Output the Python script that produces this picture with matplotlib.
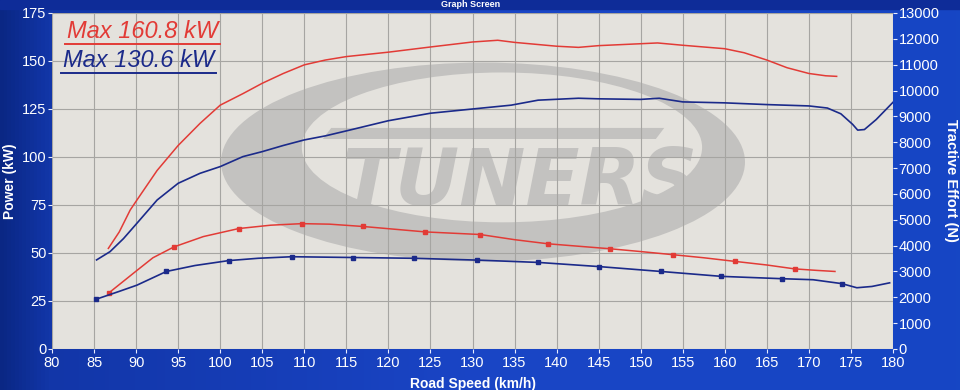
import numpy as np
import matplotlib
matplotlib.use("Agg")
import matplotlib.pyplot as plt
from matplotlib.patches import Ellipse, Polygon, Rectangle
from matplotlib.lines import Line2D
from matplotlib.colors import LinearSegmentedColormap

plt.rcParams['font.family'] = ['Liberation Sans', 'DejaVu Sans']

# ---------------- data ----------------
# Power curves (kW) vs road speed (km/h)
speed_red_power = [86.7, 88.0, 89.3, 90.1, 92.5, 95.0, 97.6, 100.0, 102.7, 105.0, 107.5,
                   110.0, 112.5, 115.0, 120.0, 125.0, 130.0, 133.0, 135.0, 140.0, 142.6,
                   145.0, 150.0, 152.0, 155.0, 160.0, 162.3, 165.0, 167.4, 170.0, 172.0, 173.3]
power_red = [52.4, 61.0, 72.4, 77.6, 93.0, 106.0, 117.5, 127.0, 133.0, 138.4, 143.5,
             148.0, 150.5, 152.3, 154.6, 157.3, 159.9, 160.8, 159.7, 157.7, 157.1,
             158.0, 159.0, 159.4, 158.2, 156.4, 154.3, 150.5, 146.5, 143.5, 142.3, 142.0]

speed_blue_power = [85.3, 86.9, 88.5, 90.1, 92.5, 95.0, 97.6, 100.0, 102.7, 105.0, 107.5,
                    110.0, 112.5, 115.0, 120.0, 125.0, 130.0, 134.6, 137.8, 142.6, 145.0,
                    150.0, 152.2, 155.0, 160.0, 165.0, 170.0, 172.2, 173.8, 175.2, 175.8,
                    176.6, 178.0, 179.0, 180.0]
power_blue = [46.4, 50.7, 57.5, 65.5, 77.6, 86.3, 91.5, 95.0, 100.2, 102.8, 106.0,
              108.9, 111.0, 113.6, 118.9, 122.8, 125.0, 127.0, 129.6, 130.6, 130.3,
              130.0, 130.6, 128.7, 128.2, 127.3, 126.6, 125.5, 122.5, 117.0, 114.0,
              114.3, 119.5, 124.0, 128.5]

# Tractive effort curves (N) vs road speed (km/h)
speed_red_te = [86.8, 90.1, 92.0, 94.5, 98.0, 102.2, 106.0, 109.7, 113.0, 117.0, 124.4,
                130.9, 135.0, 139.0, 146.3, 150.0, 153.8, 157.5, 161.2, 165.0, 168.3,
                171.0, 173.1]
te_red = [2180, 3040, 3530, 3950, 4350, 4660, 4790, 4850, 4830, 4740, 4530,
          4430, 4230, 4070, 3880, 3770, 3650, 3530, 3390, 3250, 3100,
          3040, 3000]
red_te_markers = [0, 3, 5, 7, 9, 10, 11, 13, 14, 16, 18, 20]

speed_blue_te = [85.2, 88.0, 90.1, 93.6, 97.0, 101.0, 104.5, 108.5, 115.8, 123.0, 130.5,
                 137.8, 145.0, 152.4, 159.6, 166.8, 170.5, 173.9, 175.7, 177.5, 179.6]
te_blue = [1920, 2230, 2470, 3000, 3230, 3420, 3510, 3570, 3540, 3510, 3440,
           3350, 3190, 3000, 2810, 2720, 2680, 2530, 2370, 2420, 2560]
blue_te_markers = [0, 3, 5, 7, 8, 9, 10, 11, 12, 13, 14, 15, 17]

x_ticks = list(range(80, 181, 5))
power_ticks = list(range(0, 176, 25))
te_ticks = list(range(0, 13001, 1000))

legend_texts = ["Max 160.8 kW", "Max 130.6 kW"]

RED = '#e23b36'
BLUE = '#1b2a8a'

# ---------------- figure ----------------
fig = plt.figure(figsize=(9.6, 3.9), dpi=100)

# blue gradient background
bg = fig.add_axes([0, 0, 1, 1], zorder=-10)
bg.set_axis_off()
cmap = LinearSegmentedColormap.from_list(
    'bgblue', [(0.0, '#0a2784'), (0.05, '#1236a8'), (0.5, '#1a45c6'), (1.0, '#1646c4')])
grad = np.linspace(0, 1, 256).reshape(1, -1)
bg.imshow(grad, aspect='auto', cmap=cmap, extent=[0, 1, 0, 1])
bg.add_patch(Rectangle((0, 1 - 9 / 390), 1, 9 / 390, color='#0e2c98', transform=bg.transAxes))
bg.set_xlim(0, 1)
bg.set_ylim(0, 1)
fig.text(0.49, 1 - 4.5 / 390, "Graph Screen", color='white', fontsize=6.5, fontweight='bold',
         ha='center', va='center')

ax = fig.add_axes([52 / 960, 1 - 349 / 390, 841 / 960, 336 / 390])
ax.set_facecolor('#e4e2dd')
ax.set_xlim(80, 180)
ax.set_ylim(0, 175)

# watermark logo (decoration, axes coords)
ring = '#c3c2c0'
ax.add_patch(Ellipse((0.5125, 0.5565), 0.623, 0.592, transform=ax.transAxes,
                     facecolor=ring, edgecolor='none', zorder=0.6))
ax.add_patch(Ellipse((0.535, 0.60), 0.476, 0.446, transform=ax.transAxes,
                     facecolor='#e4e2dd', edgecolor='none', zorder=0.7))
ax.add_patch(Polygon([[0.322, 0.625], [0.718, 0.625], [0.728, 0.658], [0.332, 0.658]],
                     closed=True, transform=ax.transAxes, facecolor=ring,
                     edgecolor='none', zorder=0.8))
ax.text(0.556, 0.494, "TUNERS", transform=ax.transAxes, fontsize=57,
        family='DejaVu Sans', fontweight='bold', style='italic', color=ring,
        ha='center', va='center', zorder=0.8)

ax.set_axisbelow('line')
ax.set_xticks(x_ticks)
ax.set_yticks(power_ticks)
ax.grid(True, color='#a6a5a2', linewidth=0.8)
for s in ax.spines.values():
    s.set_visible(False)
ax.tick_params(axis='both', colors='#e8ecff', labelcolor='white', labelsize=10.5,
               length=3, width=0.8, pad=1)
ax.tick_params(axis='x', pad=2)

ax.plot(speed_red_power, power_red, color=RED, lw=1.1, zorder=3)
ax.plot(speed_blue_power, power_blue, color=BLUE, lw=1.2, zorder=3)

ax.set_xlabel("Road Speed (km/h)", color='white', fontsize=10, fontweight='bold', labelpad=5)
fig.text(10 / 960, 1 - 181 / 390, "Power (kW)", color='white', fontsize=10,
         fontweight='bold', rotation=90, ha='center', va='center')

ax2 = ax.twinx()
ax2.set_ylim(0, 13000)
ax2.set_yticks(te_ticks)
for s in ax2.spines.values():
    s.set_visible(False)
ax2.tick_params(axis='y', colors='#e8ecff', labelcolor='white', labelsize=10.5,
                length=3, width=0.8, pad=1)
ax2.plot(speed_red_te, te_red, color=RED, lw=1.1, marker='s', markersize=2.6,
         markevery=red_te_markers, zorder=3)
ax2.plot(speed_blue_te, te_blue, color=BLUE, lw=1.2, marker='s', markersize=2.6,
         markevery=blue_te_markers, zorder=3)
fig.text(951 / 960, 1 - 180 / 390, "Tractive Effort (N)", color='white', fontsize=10.5,
         fontweight='bold', rotation=270, ha='center', va='center')

# legend texts with underline
t1 = ax.text(0.018, 0.925, legend_texts[0], transform=ax.transAxes, color=RED,
             fontsize=17, style='italic', ha='left', va='baseline', zorder=5)
t2 = ax.text(0.013, 0.84, legend_texts[1], transform=ax.transAxes, color=BLUE,
             fontsize=17, style='italic', ha='left', va='baseline', zorder=5)
fig.canvas.draw()
inv = fig.transFigure.inverted()
for t, c in ((t1, RED), (t2, BLUE)):
    bb = t.get_window_extent()
    (x0, y0), (x1, _) = inv.transform([[bb.x0 - 2, bb.y0 - 1], [bb.x1 + 2, bb.y0]])
    fig.add_artist(Line2D([x0, x1], [y0, y0], color=c, lw=1.4, transform=fig.transFigure))

fig.savefig("out.png", dpi=100)
